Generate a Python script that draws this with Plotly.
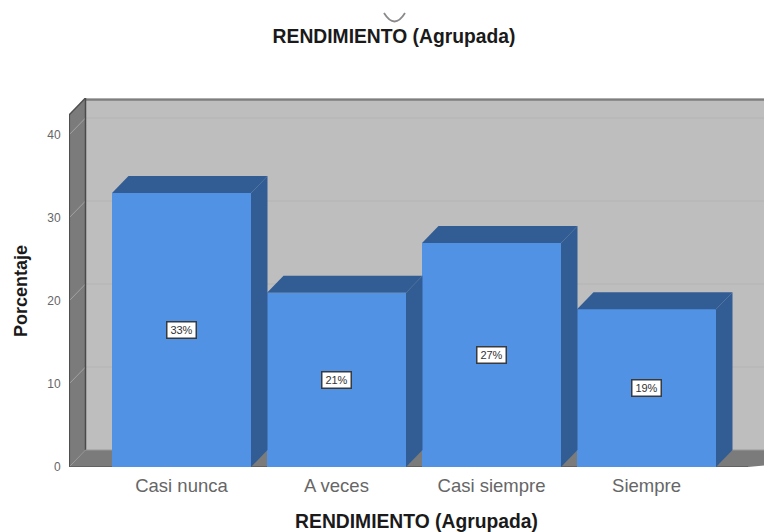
import plotly.graph_objects as go

categories = ["Casi nunca", "A veces", "Casi siempre", "Siempre"]
values = [33, 21, 27, 19]
bar_labels = ["33%", "21%", "27%", "19%"]
y_ticks = [0, 10, 20, 30, 40]
title_text = "RENDIMIENTO (Agrupada)"
y_title = "Porcentaje"

W, H = 764, 532
L, R, T, B = 69, 0, 98, 65
PX_PER_CAT = 155
PX_PER_UNIT = 8.3
X0 = (112 + 251) / 2
DX = 16.5 / PX_PER_CAT
DY = 17 / PX_PER_UNIT
BAR_W = 139 / PX_PER_CAT
x_min = (L - X0) / PX_PER_CAT
x_max = (W - R - X0) / PX_PER_CAT
y_max = (H - B - T) / PX_PER_UNIT
x_front_end = (748 - X0) / PX_PER_CAT
y_wall_top = y_max - DY

FRONT = "#5292E4"
DARK = "#325D94"
WALL = "#BEBEBE"
SIDE = "#7B7B7B"


def poly(points, fill):
    path = "M " + " L ".join(f"{x},{y}" for x, y in points) + " Z"
    return dict(type="path", path=path, xref="x", yref="y", fillcolor=fill,
                line=dict(color=fill, width=0), layer="below")


def seg(x0, y0, x1, y1, color, width):
    return dict(type="line", x0=x0, y0=y0, x1=x1, y1=y1, xref="x", yref="y",
                line=dict(color=color, width=width), layer="below")


shapes = [
    poly([(x_min + DX, DY), (x_max + 1, DY), (x_max + 1, y_max), (x_min + DX, y_max)], WALL),
    poly([(x_min, 0), (x_min + DX, DY), (x_min + DX, y_max), (x_min, y_wall_top)], SIDE),
    poly([(x_min, 0), (x_min + DX, DY), (x_max + 1, DY), (x_front_end, 0)], SIDE),
]
for t in y_ticks[1:]:
    shapes.append(seg(x_min + DX, t + DY, x_max, t + DY, "#B4B4B4", 1))
    shapes.append(seg(x_min, t, x_min + DX, t + DY, "#A2A2A2", 1))
shapes += [
    seg(x_min + DX, y_max - 0.2, x_max, y_max - 0.2, "#7E7E7E", 2),
    seg(x_min + DX, DY, x_min + DX, y_max, "#4A4A4A", 1.5),
    seg(x_min + DX, DY, x_max, DY, "#9A9A9A", 1),
    seg(x_min + 0.002, 0, x_min + 0.002, y_wall_top, "#4F4F4F", 1.5),
    seg(x_min, y_wall_top, x_min + DX, y_max, "#4F4F4F", 1.5),
    seg(x_min, 0, x_front_end, 0, "#5A5A5A", 1.5),
    dict(type="path", xref="paper", yref="paper", layer="above",
         path=(f"M {(384 - L) / (W - L - R)},{(H - B - 13) / (H - T - B)} "
               f"Q {(394.5 - L) / (W - L - R)},{(H - B - 30) / (H - T - B)} "
               f"{(405 - L) / (W - L - R)},{(H - B - 13) / (H - T - B)}"),
         line=dict(color="#8A8A8A", width=1.8)),
]

fig = go.Figure()
xs = list(range(len(categories)))
fig.add_trace(go.Bar(x=xs, y=values, width=BAR_W, marker=dict(color=FRONT, line=dict(width=0)),
                     hoverinfo="skip"))
for i, v in zip(xs, values):
    x_l, x_r = i - BAR_W / 2, i + BAR_W / 2
    fig.add_trace(go.Scatter(x=[x_l, x_l + DX, x_r + DX, x_r, x_l],
                             y=[v, v + DY, v + DY, v, v], mode="lines", fill="toself",
                             fillcolor=DARK, line=dict(width=0), hoverinfo="skip"))
    fig.add_trace(go.Scatter(x=[x_r, x_r + DX, x_r + DX, x_r, x_r],
                             y=[v, v + DY, DY, 0, v], mode="lines", fill="toself",
                             fillcolor=DARK, line=dict(width=0), hoverinfo="skip"))

annotations = [
    dict(x=i, y=v / 2, text=lab, showarrow=False, bgcolor="white", bordercolor="#3A3A3A",
         borderwidth=1.5, width=28, height=15, borderpad=0,
         font=dict(family="Liberation Sans", size=11, color="#333333"))
    for i, v, lab in zip(xs, values, bar_labels)
]
annotations.append(dict(xref="paper", yref="paper", x=(21 - L) / (W - L - R), xanchor="center",
                        yanchor="middle", y=(H - B - 291) / (H - T - B),
                        text=f"<b>{y_title}</b>", textangle=-90,
                        showarrow=False, font=dict(size=18, color="#1A1A1A")))

fig.update_layout(
    width=W, height=H, margin=dict(l=L, r=R, t=T, b=B, pad=0, autoexpand=False),
    paper_bgcolor="white", plot_bgcolor="white", showlegend=False, bargap=0,
    font=dict(family="Liberation Sans"),
    title=dict(text=f"<b>{title_text}</b>", x=394 / W, xanchor="center", y=1 - 36 / H, yanchor="middle",
               font=dict(size=19.3, color="#1A1A1A")),
    shapes=shapes, annotations=annotations,
    xaxis=dict(range=[x_min, x_max], tickmode="array", tickvals=xs, ticktext=categories,
               showgrid=False, zeroline=False, showline=False, ticks="outside", ticklen=2,
               tickcolor="rgba(0,0,0,0)", tickfont=dict(size=18.5, color="#666666"),
               title=dict(text=f"<b>{title_text}</b>", standoff=19,
                          font=dict(size=19.3, color="#1A1A1A"))),
    yaxis=dict(range=[0, y_max], tickmode="array", tickvals=y_ticks, showgrid=False,
               zeroline=False, showline=False, ticks="outside", ticklen=5,
               tickcolor="rgba(0,0,0,0)", tickfont=dict(size=12, color="#666666")),
)
fig.write_html("out.html", post_script="document.body.style.margin='0';",
               config={"displayModeBar": False})
